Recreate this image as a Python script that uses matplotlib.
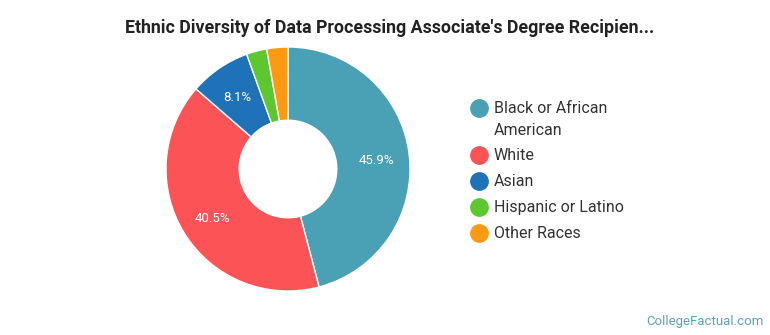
import matplotlib
matplotlib.use("Agg")
import matplotlib.pyplot as plt
from matplotlib.lines import Line2D
import numpy as np

categories = ["Black or African\nAmerican", "White", "Asian", "Hispanic or Latino", "Other Races"]
values = [45.9, 40.5, 8.1, 2.7, 2.8]
colors = ["#4aa0b5", "#fc5356", "#1f72b8", "#5cc72f", "#fd9a12"]
title = "Ethnic Diversity of Data Processing Associate's Degree Recipien..."

plt.rcParams['font.family'] = ['Roboto', 'DejaVu Sans']

W, H = 770, 335
fig = plt.figure(figsize=(W/100, H/100), dpi=100)
fig.patch.set_facecolor("white")

cx, cy, r = 288, 169, 122
ax = fig.add_axes([(cx - r)/W, (H - cy - r)/H, 2*r/W, 2*r/H])
ax.set_aspect("equal")
wedges, _ = ax.pie(values, colors=colors, startangle=90, counterclock=False,
                   radius=1.0, wedgeprops=dict(width=0.6, edgecolor="white", linewidth=1.0))
ax.set_xlim(-1, 1); ax.set_ylim(-1, 1)

cum = 0
for v, w in zip(values, wedges):
    mid = 90 - (cum + v/2) * 3.6
    cum += v
    if v < 5:
        continue
    rr = 0.73
    ax.text(rr*np.cos(np.radians(mid)), rr*np.sin(np.radians(mid)) - 0.02, f"{v:.1f}%",
            ha="center", va="center", color="white", fontsize=9.5)

fig.text(390/W, 1 - 28/H, title, ha="center", va="center", fontsize=12.8, fontweight="bold", color="#222222")

# legend
ys = [108, 155, 181, 207, 233]
for lab, c, y in zip(categories, colors, ys):
    fig.add_artist(Line2D([479/W], [1 - y/H], marker="o", markersize=12.5, color=c,
                          linestyle="none", transform=fig.transFigure))
    fig.text(494/W, 1 - (y - 7)/H, lab, ha="left", va="top", fontsize=11.5, color="#333333",
             linespacing=1.55)

fig.text(764/W, 1 - 321/H, "CollegeFactual.com", ha="right", va="center", fontsize=9.5, color="#5ba3b8")

fig.savefig("out.png", dpi=100, facecolor="white")
